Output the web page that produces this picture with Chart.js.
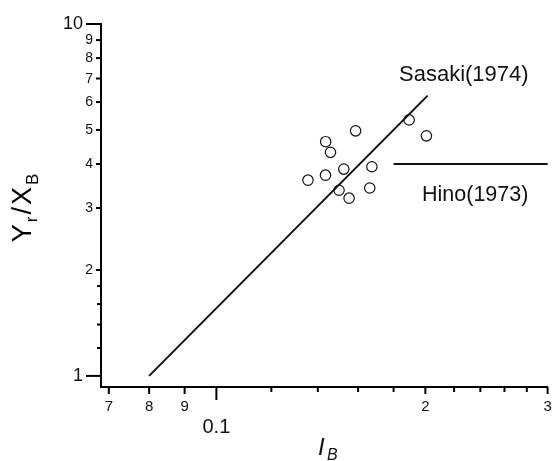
<!DOCTYPE html>
<html>
<head>
<meta charset="utf-8">
<script src="https://cdn.jsdelivr.net/npm/chart.js@4"></script>
<style>
    body { margin: 0; background: #fff; }
    #wrap { width: 554px; height: 461px; position: relative; }
</style>
</head>
<body>
<div id="wrap"><canvas id="myChart"></canvas></div>
<script>
// measured points (I_B, Yr/XB)
const obsX = [0.1355, 0.1436, 0.1437, 0.1460, 0.1587, 0.1526, 0.1502, 0.1553, 0.1675, 0.1663, 0.1895, 0.2007];
const obsY = [3.60, 3.72, 4.63, 4.32, 4.97, 3.87, 3.37, 3.20, 3.93, 3.42, 5.34, 4.81];

// Sasaki (1974)
const sasakiX = [0.08, 0.2015];
const sasakiY = [1.0, 6.26];

// Hino (1973)
const hinoX = [0.18, 0.3];
const hinoY = [4.0, 4.0];

// axis ticks
const xTicks = [0.07, 0.08, 0.09, 0.1, 0.2, 0.3];
const xTickLabels = ['7', '8', '9', '0.1', '2', '3'];
const xMinor = [0.12, 0.14, 0.16, 0.18, 0.22, 0.24, 0.26, 0.28];
const yTicks = [1, 2, 3, 4, 5, 6, 7, 8, 9, 10];
const yTickLabels = ['1', '2', '3', '4', '5', '6', '7', '8', '9', '10'];
const yMinor = [1.2, 1.4, 1.6, 1.8];

const FONT = '"Liberation Sans", Arial, Helvetica, sans-serif';

function toPoints(xs, ys) {
    return xs.map((x, i) => ({ x: x, y: ys[i] }));
}

// ticks, labels and titles drawn by hand (log axes with mixed tick sizes)
const axisDecor = {
    id: 'axisDecor',
    afterDraw(chart) {
        const ctx = chart.ctx;
        const xs = chart.scales.x;
        const ys = chart.scales.y;
        const left = chart.chartArea.left;
        const bottom = chart.chartArea.bottom;

        function seg(x1, y1, x2, y2) {
            ctx.beginPath();
            ctx.moveTo(x1, y1);
            ctx.lineTo(x2, y2);
            ctx.stroke();
        }

        ctx.save();
        ctx.strokeStyle = '#000';
        ctx.fillStyle = '#111';
        ctx.lineWidth = 2;

        // y axis
        ctx.textAlign = 'right';
        ctx.textBaseline = 'middle';
        yTicks.forEach((v, i) => {
            const py = ys.getPixelForValue(v);
            const big = v === 1 || v === 10;
            const len = big ? 15 : 5;
            seg(left - len, py, left, py);
            ctx.font = (big ? 18 : 14) + 'px ' + FONT;
            ctx.fillText(yTickLabels[i], left - len - 3, py + 0.5);
        });
        yMinor.forEach(v => {
            const py = ys.getPixelForValue(v);
            seg(left - 4, py, left, py);
        });

        // x axis
        ctx.textAlign = 'center';
        xTicks.forEach((v, i) => {
            const px = xs.getPixelForValue(v);
            const big = v === 0.1;
            seg(px, bottom, px, bottom + (big ? 13 : 7));
            if (big) {
                ctx.font = '20px ' + FONT;
                ctx.fillText(xTickLabels[i], px, 427);
            } else {
                ctx.font = '15px ' + FONT;
                ctx.fillText(xTickLabels[i], px, 407);
            }
        });
        xMinor.forEach(v => {
            const px = xs.getPixelForValue(v);
            seg(px, bottom, px, bottom + 5);
        });

        // x title: I_B
        ctx.textAlign = 'left';
        ctx.textBaseline = 'alphabetic';
        ctx.font = 'italic 24px ' + FONT;
        ctx.fillText('I', 318, 455);
        ctx.font = 'italic 16px ' + FONT;
        ctx.fillText('B', 327, 460);

        // y title: Yr/XB
        const parts = [['Y', 27, 0], ['r', 17, 6], ['/', 27, 0], ['X', 27, 0], ['B', 17, 7]];
        const gap = 2;
        let total = 0;
        parts.forEach(p => {
            ctx.font = p[1] + 'px ' + FONT;
            total += ctx.measureText(p[0]).width + gap;
        });
        total -= gap;
        ctx.save();
        ctx.fillStyle = '#000';
        ctx.translate(31, 208);
        ctx.rotate(-Math.PI / 2);
        let tx = -total / 2;
        parts.forEach(p => {
            ctx.font = p[1] + 'px ' + FONT;
            ctx.fillText(p[0], tx, p[2]);
            tx += ctx.measureText(p[0]).width + gap;
        });
        ctx.restore();

        // curve labels
        ctx.font = '22px ' + FONT;
        ctx.fillText('Sasaki(1974)', 399, 81);
        ctx.font = '21.5px ' + FONT;
        ctx.fillText('Hino(1973)', 422, 201);

        ctx.restore();
    }
};

const ctx = document.getElementById('myChart').getContext('2d');
new Chart(ctx, {
    type: 'scatter',
    data: {
        datasets: [
            {
                label: 'Sasaki(1974)',
                data: toPoints(sasakiX, sasakiY),
                showLine: true,
                borderColor: '#111',
                borderWidth: 2,
                pointRadius: 0
            },
            {
                label: 'Hino(1973)',
                data: toPoints(hinoX, hinoY),
                showLine: true,
                borderColor: '#111',
                borderWidth: 2,
                pointRadius: 0,
                clip: 4
            },
            {
                label: 'data',
                data: toPoints(obsX, obsY),
                pointStyle: 'circle',
                pointRadius: 5.2,
                borderColor: '#111',
                borderWidth: 1.2,
                backgroundColor: 'rgba(0,0,0,0)'
            }
        ]
    },
    options: {
        responsive: true,
        maintainAspectRatio: false,
        animation: false,
        layout: { padding: { left: 101, right: 5, top: 24, bottom: 74 } },
        plugins: {
            legend: { display: false },
            tooltip: { enabled: false }
        },
        scales: {
            x: {
                type: 'logarithmic',
                min: 0.0682,
                max: 0.3,
                grid: { display: false, drawTicks: false },
                ticks: { display: false },
                border: { display: true, color: '#000', width: 2 }
            },
            y: {
                type: 'logarithmic',
                min: 0.93,
                max: 10,
                grid: { display: false, drawTicks: false },
                ticks: { display: false },
                border: { display: true, color: '#000', width: 2 }
            }
        }
    },
    plugins: [axisDecor]
});
</script>
</body>
</html>
